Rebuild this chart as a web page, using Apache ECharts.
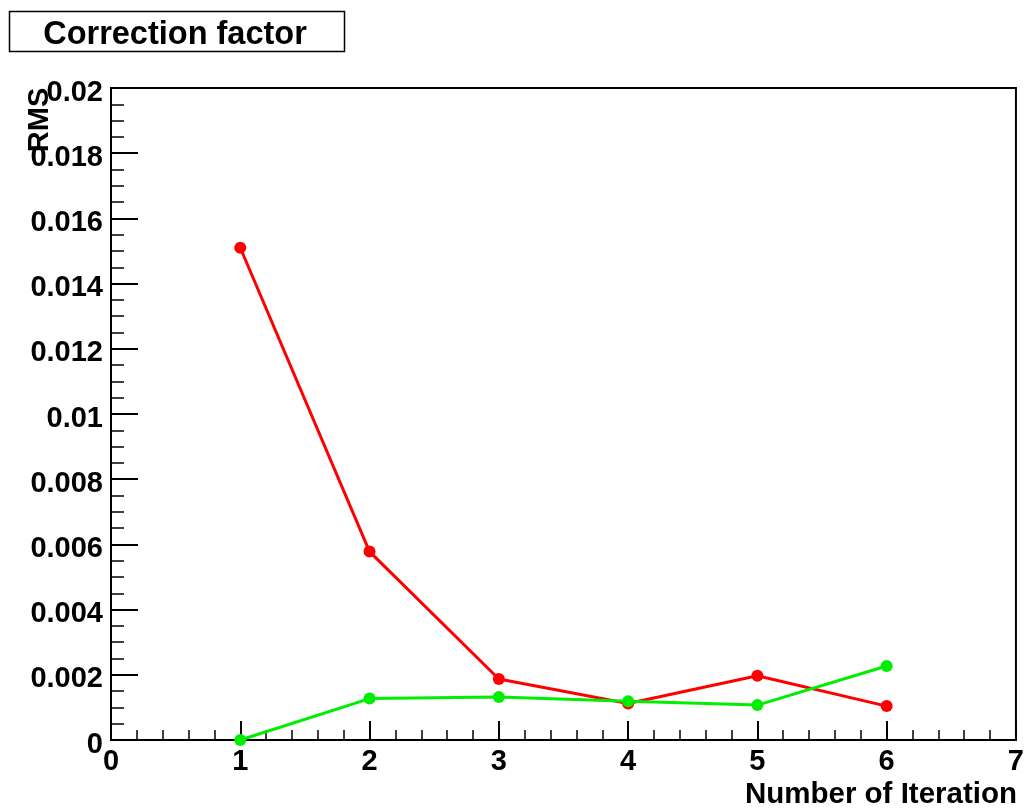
<!DOCTYPE html>
<html>
<head>
<meta charset="utf-8">
<title>Correction factor</title>
<script src="https://cdn.jsdelivr.net/npm/echarts@6/dist/echarts.min.js"></script>
<style>
  html, body { margin: 0; padding: 0; background: #fff; }
  #chart { width: 1027px; height: 812px; }
</style>
</head>
<body>
<div id="chart"></div>
<script>
// Iteration numbers and RMS of the correction factor per iteration
const iterations = [1, 2, 3, 4, 5, 6];
const rmsRed   = [0.0151, 0.00578, 0.00187, 0.00112, 0.00197, 0.00104];
const rmsGreen = [0.0, 0.00127, 0.00132, 0.00119, 0.00107, 0.00227];

const titleText = 'Correction factor';
const xTitle = 'Number of Iteration';
const yTitle = 'RMS';

const FONT = '"Liberation Sans", Arial, Helvetica, sans-serif';

const pairs = (xs, ys) => xs.map((x, i) => [x, ys[i]]);

const chart = echarts.init(document.getElementById('chart'), null, { renderer: 'canvas' });

const seriesStyle = (color) => ({
  type: 'line',
  symbol: 'circle',
  symbolSize: 12,
  clip: false,
  lineStyle: { color: color, width: 3 },
  itemStyle: { color: color },
  emphasis: { disabled: true },
  z: 3
});

chart.setOption({
  animation: false,
  backgroundColor: '#ffffff',
  grid: {
    left: 111, right: 10, top: 88, bottom: 72,
    show: true, borderColor: '#000', borderWidth: 2, backgroundColor: 'transparent'
  },
  xAxis: {
    type: 'value',
    min: 0, max: 7, interval: 1,
    axisLine: { show: true, onZero: false, lineStyle: { color: '#000', width: 2 } },
    axisTick: { show: true, inside: true, length: 19, lineStyle: { color: '#000', width: 2 } },
    minorTick: { show: true, splitNumber: 5, length: 10, lineStyle: { color: '#000', width: 1.5 } },
    splitLine: { show: false },
    axisLabel: {
      color: '#000', fontFamily: FONT, fontWeight: 'bold', fontSize: 29, margin: 7,
      showMinLabel: true, showMaxLabel: true
    }
  },
  yAxis: {
    type: 'value',
    min: 0, max: 0.02, interval: 0.002,
    axisLine: { show: true, onZero: false, lineStyle: { color: '#000', width: 2 } },
    axisTick: { show: true, inside: true, length: 27, lineStyle: { color: '#000', width: 2 } },
    minorTick: { show: true, splitNumber: 4, length: 13, lineStyle: { color: '#000', width: 1.5 } },
    splitLine: { show: false },
    axisLabel: {
      color: '#000', fontFamily: FONT, fontWeight: 'bold', fontSize: 29, margin: 8,
      formatter: (v) => '{v|' + String(parseFloat(v.toFixed(4))) + '}',
      rich: {
        v: {
          color: '#000', fontFamily: FONT, fontWeight: 'bold', fontSize: 29,
          padding: [9, 0, 0, 0]
        }
      }
    }
  },
  series: [
    Object.assign({ name: 'red', data: pairs(iterations, rmsRed) }, seriesStyle('#ff0000')),
    Object.assign({ name: 'green', data: pairs(iterations, rmsGreen) }, seriesStyle('#00ee00'))
  ],
  graphic: [
    {
      type: 'rect',
      shape: { x: 9.5, y: 11.5, width: 335, height: 40 },
      style: { fill: '#fff', stroke: '#000', lineWidth: 1.5 }
    },
    {
      type: 'text',
      x: 175, y: 35,
      style: {
        text: titleText, fill: '#000', font: 'bold 32.5px ' + FONT,
        textAlign: 'center', textVerticalAlign: 'middle'
      }
    },
    {
      type: 'text',
      x: 40, y: 120,
      rotation: Math.PI / 2,
      style: {
        text: yTitle, fill: '#000', font: 'bold 29px ' + FONT,
        textAlign: 'center', textVerticalAlign: 'middle'
      }
    },
    {
      type: 'text',
      x: 1017, y: 795,
      style: {
        text: xTitle, fill: '#000', font: 'bold 29.5px ' + FONT,
        textAlign: 'right', textVerticalAlign: 'middle'
      }
    }
  ]
});
</script>
</body>
</html>
